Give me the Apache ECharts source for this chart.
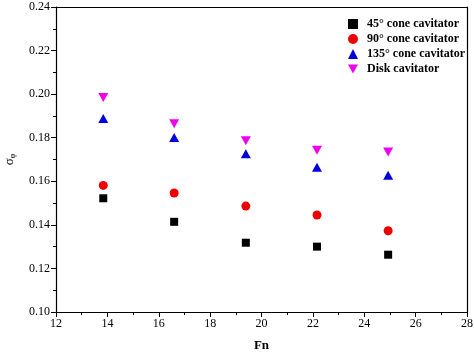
<!DOCTYPE html>
<html>
<head>
<meta charset="utf-8">
<script src="https://cdn.jsdelivr.net/npm/echarts@6/dist/echarts.min.js"></script>
<style>
html, body { margin: 0; padding: 0; background: #fff; }
#main { width: 474px; height: 353px; }
</style>
</head>
<body>
<div id="main"></div>
<script>
var fn = [13.84, 16.6, 19.39, 22.16, 24.93];
var cone45 = [0.1522, 0.1414, 0.1318, 0.1300, 0.1263];
var cone90 = [0.1581, 0.1546, 0.1486, 0.1445, 0.1373];
var cone135 = [0.1888, 0.1801, 0.1726, 0.1664, 0.1628];
var disk = [0.1985, 0.1864, 0.1786, 0.1743, 0.1735];
var names = ['45° cone cavitator', '90° cone cavitator', '135° cone cavitator', 'Disk cavitator'];

function pairs(ys) {
    return fn.map(function(x, i) { return [x, ys[i]]; });
}

var font = 'Liberation Serif';
var downTri = 'path://M0,0 L10,0 L5,9 Z';

var chart = echarts.init(document.getElementById('main'));
var option = {
    animation: false,
    textStyle: { fontFamily: font },
    grid: {
        left: 56,
        right: 7,
        top: 7,
        bottom: 41,
        outerBoundsMode: 'none'
    },
    legend: {
        orient: 'vertical',
        left: 343,
        top: 13,
        itemWidth: 10,
        itemHeight: 10,
        itemGap: 3,
        textStyle: {
            fontFamily: font, fontWeight: 'bold', fontSize: 12, color: '#000',
            padding: [0, 0, 0, 4]
        },
        data: [
            { name: names[0], icon: 'rect' },
            { name: names[1], icon: 'circle' },
            { name: names[2], icon: 'triangle' },
            { name: names[3], icon: downTri }
        ]
    },
    xAxis: [{
        type: 'value',
        min: 12,
        max: 28,
        interval: 2,
        name: 'Fn',
        nameLocation: 'middle',
        nameGap: 27,
        nameTextStyle: { fontFamily: font, fontWeight: 'bold', fontSize: 13, color: '#000' },
        axisLine: { lineStyle: { color: '#000', width: 1.2 } },
        axisTick: { length: 5, lineStyle: { color: '#000' } },
        minorTick: { show: true, splitNumber: 2, length: 3, lineStyle: { color: '#000' } },
        splitLine: { show: false },
        axisLabel: { fontFamily: font, fontSize: 12, color: '#000', margin: 6 }
    }, {
        type: 'value',
        position: 'top',
        min: 12,
        max: 28,
        axisLine: { show: true, lineStyle: { color: '#000', width: 1.2 } },
        axisTick: { show: false },
        axisLabel: { show: false },
        splitLine: { show: false }
    }],
    yAxis: [{
        type: 'value',
        min: 0.10,
        max: 0.24,
        interval: 0.02,
        name: '{s|σ}{sub|φ}',
        nameLocation: 'middle',
        nameGap: 39,
        nameTextStyle: {
            rich: {
                s: { fontFamily: font, fontSize: 13, color: '#000' },
                sub: { fontFamily: font, fontSize: 8, color: '#000', verticalAlign: 'bottom', padding: [6, 0, 0, 0] }
            }
        },
        axisLine: { show: true, lineStyle: { color: '#000', width: 1.2 } },
        axisTick: { show: true, length: 5, lineStyle: { color: '#000' } },
        minorTick: { show: true, splitNumber: 2, length: 3, lineStyle: { color: '#000' } },
        splitLine: { show: false },
        axisLabel: {
            fontFamily: font, fontSize: 12, color: '#000', margin: 6,
            formatter: function(v) { return v.toFixed(2); }
        }
    }, {
        type: 'value',
        position: 'right',
        min: 0.10,
        max: 0.24,
        axisLine: { show: true, lineStyle: { color: '#000', width: 1.2 } },
        axisTick: { show: false },
        axisLabel: { show: false },
        splitLine: { show: false }
    }],
    series: [
        {
            name: names[0], type: 'scatter', symbol: 'rect', symbolSize: 8,
            itemStyle: { color: '#000000', opacity: 1 }, data: pairs(cone45)
        },
        {
            name: names[1], type: 'scatter', symbol: 'circle', symbolSize: 9,
            itemStyle: { color: '#ee0000', opacity: 1 }, data: pairs(cone90)
        },
        {
            name: names[2], type: 'scatter', symbol: 'triangle', symbolSize: [10, 9],
            itemStyle: { color: '#0000dd', opacity: 1 }, data: pairs(cone135)
        },
        {
            name: names[3], type: 'scatter', symbol: downTri, symbolSize: [10, 9],
            itemStyle: { color: '#ee00ee', opacity: 1 }, data: pairs(disk)
        }
    ]
};
chart.setOption(option);
</script>
</body>
</html>
